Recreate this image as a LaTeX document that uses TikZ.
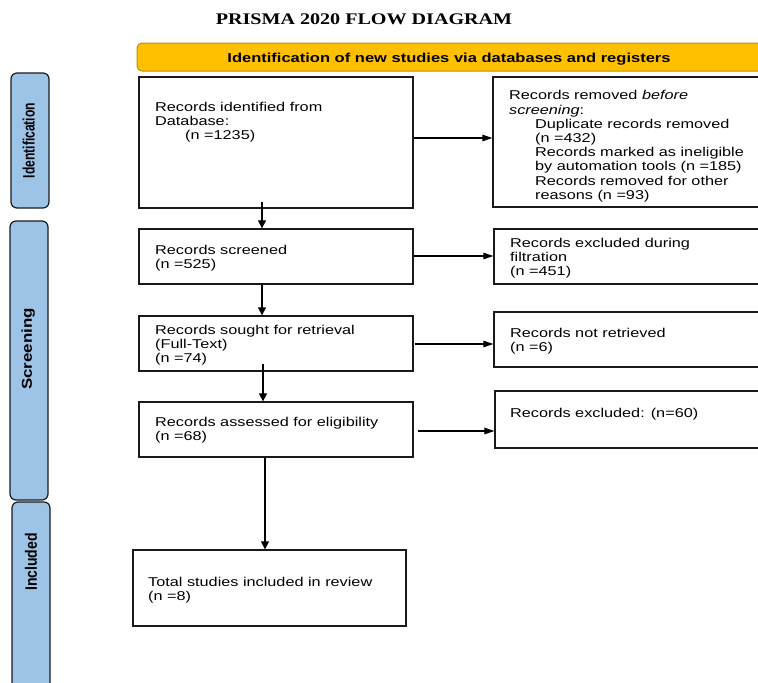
\documentclass[tikz,border=0pt]{standalone}
\usepackage{fontspec}
\usepackage{graphicx}
\usetikzlibrary{calc,arrows.meta}
\setmainfont{Liberation Sans}
\newfontfamily\boxfont{Liberation Sans}[FakeStretch=1.27]
\newfontfamily\titlefont{Liberation Serif}[FakeStretch=1.24]
\newfontfamily\sidefont{Liberation Sans}
\definecolor{bannerfill}{HTML}{FFC000}
\definecolor{bannerline}{HTML}{C09000}
\definecolor{sidefill}{HTML}{9DC3E6}
\definecolor{sideline}{HTML}{1A1A1A}
\tikzset{
  box/.style={draw=black!90, line width=1.3pt, fill=white, inner sep=0pt},
  sidebar/.style={draw=sideline, line width=1.2pt, fill=sidefill, rounded corners=6pt, inner sep=0pt, minimum width=38pt},
  sidelabel/.style={font=\sidefont\bfseries\fontsize{13}{15}\selectfont, rotate=90, inner sep=0pt, anchor=center},
  btext/.style={font=\boxfont\fontsize{12.8}{14}\selectfont, anchor=north west, inner sep=0pt, align=left},
  varr/.style={line width=1.2pt, -{Triangle[length=8pt,width=8pt]}},
  harr/.style={line width=1.2pt, -{Triangle[length=10pt,width=6.5pt]}}
}
\begin{document}
\begin{tikzpicture}[x=1pt,y=-1pt]
\useasboundingbox (0,0) rectangle (758,683);
\clip (0,0) rectangle (758,683);
\fill[white] (0,0) rectangle (758,683);

% title
\node[font=\titlefont\bfseries\fontsize{16.2}{18}\selectfont, inner sep=0pt] (title) at (364,19) {PRISMA 2020 FLOW DIAGRAM};

% banner
\node[draw=bannerline, line width=1pt, fill=bannerfill, rounded corners=5pt, minimum width=643pt, minimum height=28pt, inner sep=0pt] (banner) at (458.5,57) {};
\node[font=\boxfont\bfseries\fontsize{13}{15}\selectfont, inner sep=0pt, anchor=base] (bannertext) at (449,62.5) {Identification of new studies via databases and registers};

% side bars
\node[sidebar, minimum height=135pt] (idbar) at (30,140.5) {};
\node[sidebar, minimum height=279pt] (scbar) at (29,360.5) {};
\node[sidebar, minimum height=198pt] (inbar) at (31,601) {};
\node[sidelabel] (idlab) at (28.8,140.5) {\scalebox{0.93}[1.27]{Identification}};
\node[sidelabel] (sclab) at (28.3,349) {\scalebox{1.30}[1.10]{Screening}};
\node[sidelabel] (inlab) at (31,562) {\scalebox{1.08}[1.27]{Included}};

% boxes
\node[box, minimum width=274pt, minimum height=131pt] (b1) at (276,142.5) {};
\node[box, minimum width=287pt, minimum height=130pt] (r1) at (636.5,142) {};
\node[box, minimum width=274pt, minimum height=55pt] (b2) at (276,256.5) {};
\node[box, minimum width=286pt, minimum height=55pt] (r2) at (637,256.5) {};
\node[box, minimum width=274pt, minimum height=55pt] (b3) at (276,343.5) {};
\node[box, minimum width=286pt, minimum height=55pt] (r3) at (637,339.5) {};
\node[box, minimum width=274pt, minimum height=55pt] (b4) at (276,429.5) {};
\node[box, minimum width=285pt, minimum height=57pt] (r4) at (637.5,419.5) {};
\node[box, minimum width=273pt, minimum height=76pt] (b5) at (269.5,588) {};

% texts
\node[btext] (b1t) at (155,101.7) {Records identified from\\Database:\\\hspace*{30pt}(n =1235)};
\node[btext, font=\boxfont\fontsize{12.8}{14.2}\selectfont] (r1t) at (509,90.5) {Records removed \textit{before}\\\textit{screening}:\\\hspace*{26pt}Duplicate records removed\\\hspace*{26pt}(n =432)\\\hspace*{26pt}Records marked as ineligible\\\hspace*{26pt}by automation tools (n =185)\\\hspace*{26pt}Records removed for other\\\hspace*{26pt}reasons (n =93)};
\node[btext] (b2t) at (155,244.7) {Records screened\\(n =525)};
\node[btext] (r2t) at (510,237.7) {Records excluded during\\filtration\\(n =451)};
\node[btext] (b3t) at (155,324.7) {Records sought for retrieval\\(Full-Text)\\(n =74)};
\node[btext] (r3t) at (510,327.7) {Records not retrieved\\(n =6)};
\node[btext] (b4t) at (155,416.7) {Records assessed for eligibility\\(n =68)};
\node[btext] (r4t) at (510,407.7) {Records excluded: (n=60)};
\node[btext] (b5t) at (148,576.7) {Total studies included in review\\(n =8)};

% connectors
\draw[varr] ($(b1.south)+(-14,-7)$) -- ($(b2.north)+(-14,0)$);
\draw[varr] ($(b2.south)+(-14,0)$) -- ($(b3.north)+(-14,0)$);
\draw[varr] ($(b3.south)+(-13,-8)$) -- ($(b4.north)+(-13,0)$);
\draw[varr] ($(b4.south)+(-11,0)$) -- ($(b5.north)+(-4.5,0)$);
\coordinate (h1) at ($(b1.east)+(0,-4.5)$);
\draw[harr] (h1) -- (h1 -| r1.west);
\coordinate (h2) at ($(b2.east)+(0,-0.5)$);
\draw[harr] (h2) -- (h2 -| r2.west);
\coordinate (h3) at ($(b3.east)+(1,0.5)$);
\draw[harr] (h3) -- (h3 -| r3.west);
\coordinate (h4) at ($(b4.east)+(4,1.5)$);
\draw[harr] (h4) -- (h4 -| r4.west);
\end{tikzpicture}
\end{document}
